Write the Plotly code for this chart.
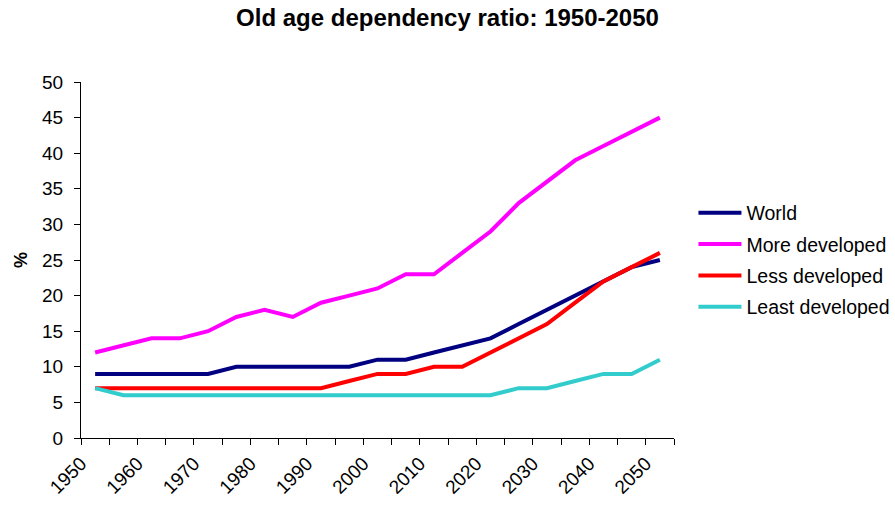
import plotly.graph_objects as go

# Old age dependency ratio (%), five-year steps
years = [1950, 1955, 1960, 1965, 1970, 1975, 1980, 1985, 1990, 1995, 2000,
         2005, 2010, 2015, 2020, 2025, 2030, 2035, 2040, 2045, 2050]
world = [9, 9, 9, 9, 9, 10, 10, 10, 10, 10, 11, 11, 12, 13, 14, 16, 18, 20, 22, 24, 25]
more_developed = [12, 13, 14, 14, 15, 17, 18, 17, 19, 20, 21, 23, 23, 26, 29, 33, 36, 39, 41, 43, 45]
less_developed = [7, 7, 7, 7, 7, 7, 7, 7, 7, 8, 9, 9, 10, 10, 12, 14, 16, 19, 22, 24, 26]
least_developed = [7, 6, 6, 6, 6, 6, 6, 6, 6, 6, 6, 6, 6, 6, 6, 7, 7, 8, 9, 9, 11]

decade_labels = ["1950", "1960", "1970", "1980", "1990", "2000",
                 "2010", "2020", "2030", "2040", "2050"]
y_ticks = [0, 5, 10, 15, 20, 25, 30, 35, 40, 45, 50]

series = [
    ("World", world, "#000080"),
    ("More developed", more_developed, "#FF00FF"),
    ("Less developed", less_developed, "#FF0000"),
    ("Least developed", least_developed, "#33CCCC"),
]

# Category boundaries: a tick between every five-year step, labels every other one
step = years[1] - years[0]
boundaries = [years[0] - step / 2 + step * k for k in range(len(years) + 1)]
tick_text = []
for k in range(len(boundaries)):
    tick_text.append(decade_labels[k // 2] if k % 2 == 0 and k // 2 < len(decade_labels) else "")

fig = go.Figure()
for name, values, color in series:
    fig.add_trace(go.Scatter(
        x=years, y=values, name=name, mode="lines",
        legendgroup=name,
        line=dict(color=color, width=4),
    ))

font_family = "Liberation Sans, Arial, sans-serif"

fig.update_layout(
    width=895, height=507,
    margin=dict(l=81, r=221, t=82, b=69, autoexpand=False),
    paper_bgcolor="white", plot_bgcolor="white",
    font=dict(family=font_family, size=18, color="#000000"),
    title=dict(
        text="<b>Old age dependency ratio: 1950-2050</b>",
        x=0.5, xanchor="center", y=0.965, yanchor="middle",
        font=dict(size=24, family=font_family),
    ),
    showlegend=True,
    legend=dict(
        xref="container", yref="container",
        x=0.7748, xanchor="left", y=0.487, yanchor="middle",
        font=dict(size=19.5, family=font_family),
        itemwidth=43, tracegroupgap=3,
        bgcolor="rgba(0,0,0,0)",
    ),
)

fig.update_xaxes(
    type="linear",
    range=[boundaries[0], boundaries[-1]],
    tickmode="array", tickvals=boundaries, ticktext=tick_text,
    tickangle=-45,
    ticks="outside", ticklen=6, tickcolor="#000000", tickwidth=1,
    showline=True, linecolor="#000000", linewidth=1,
    showgrid=False, zeroline=False, automargin=False,
    tickfont=dict(size=19),
)

fig.update_yaxes(
    range=[0, 50],
    tickmode="array", tickvals=y_ticks,
    ticks="outside", ticklen=6, tickcolor="#000000", tickwidth=1,
    showline=True, linecolor="#000000", linewidth=1,
    showgrid=False, zeroline=False, automargin=False,
    ticklabelstandoff=7,
    tickfont=dict(size=19),
    title=dict(text="<b>%</b>", font=dict(size=18), standoff=9),
)

fig.write_html("out.html")
